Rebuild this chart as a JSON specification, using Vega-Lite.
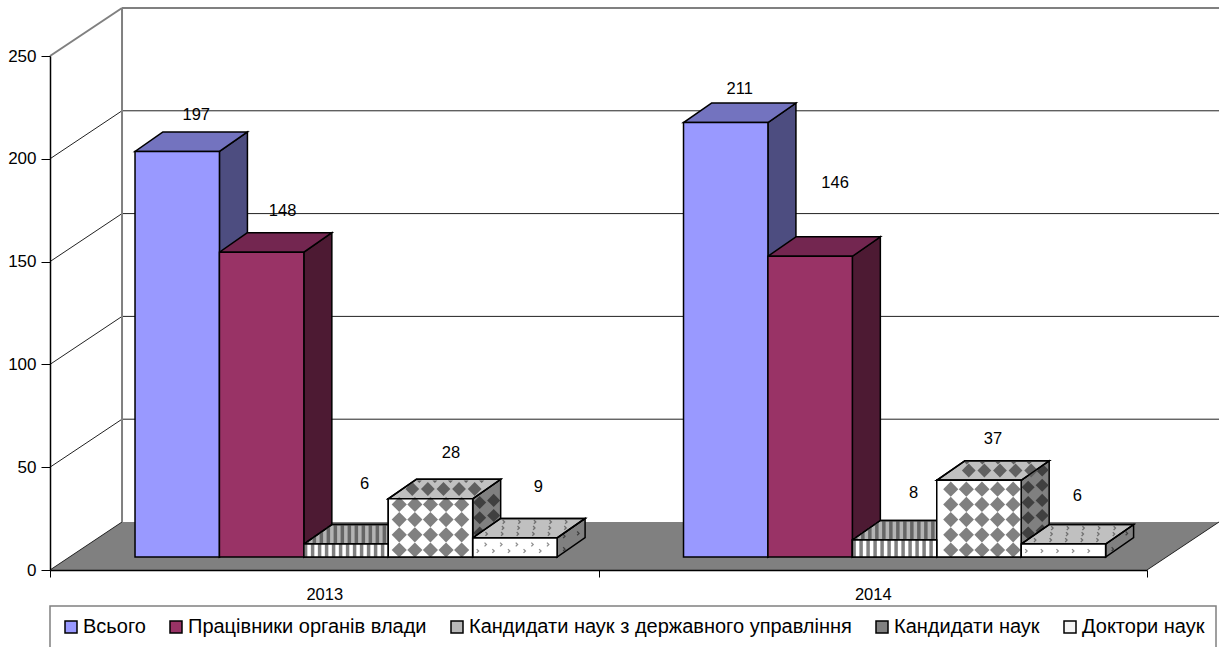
{
"$schema":"https://vega.github.io/schema/vega-lite/v6.json",
"width":1097,"height":514,
"autosize":"none",
"padding":{"left":50,"top":56,"right":74,"bottom":77},
"background":"white",
"config":{"view":{"stroke":null},"font":"Liberation Sans","legend":{"gridAlign":"none","strokeWidth":1.5}},
"data":{"values":[
{"year":2013,"series":"Всього","value":197},
{"year":2013,"series":"Працівники органів влади","value":148},
{"year":2013,"series":"Кандидати наук з державного управління","value":6},
{"year":2013,"series":"Кандидати наук","value":28},
{"year":2013,"series":"Доктори наук","value":9},
{"year":2014,"series":"Всього","value":211},
{"year":2014,"series":"Працівники органів влади","value":146},
{"year":2014,"series":"Кандидати наук з державного управління","value":8},
{"year":2014,"series":"Кандидати наук","value":37},
{"year":2014,"series":"Доктори наук","value":6}
]},
"transform":[
{"calculate":"indexof(['Всього','Працівники органів влади','Кандидати наук з державного управління','Кандидати наук','Доктори наук'],datum.series)","as":"k"},
{"calculate":"datum.year-0.345+datum.k*0.1539","as":"x0"},
{"calculate":"datum.x0+0.1539","as":"x1"},
{"calculate":"datum.value+6.6","as":"top"},
{"calculate":"datum.value*2.056","as":"h"},
{"calculate":"datum.year+'-'+datum.k","as":"id"}
],
"encoding":{
"x":{"field":"px","type":"quantitative","scale":{"domain":[2012.5,2014.5],"nice":false,"zero":false},
 "axis":{"title":null,"grid":false,"values":[2012.5,2013,2013.5,2014,2014.5],"labelExpr":"datum.value%1==0 ? ''+datum.value : ''","tickOpacity":{"condition":{"test":"datum.value%1!=0","value":1},"value":0},"tickSize":7,"tickColor":"#000","domainColor":"#000","domainWidth":1.5,"labelColor":"#000","labelFontSize":16.5,"labelFont":"Liberation Sans","labelPadding":9,"labelFlush":false,"labelOverlap":false,"zindex":1}},
"y":{"field":"py","type":"quantitative","scale":{"domain":[0,250],"nice":false,"zero":false},
 "axis":{"title":null,"grid":false,"values":[0,50,100,150,200,250],"tickSize":9,"tickColor":"#000","domainColor":"#000","domainWidth":1.5,"labelColor":"#000","labelFontSize":17,"labelFont":"Liberation Sans","labelPadding":5,"zindex":1}}
},
"layer":[
{"data":{"values":[{"plane":"floor"}]},
 "transform":[{"calculate":"2012.5","as":"fa"},{"calculate":"2012.6313","as":"fb"},{"fold":["fa","fb"],"as":["corner","px"]},{"calculate":"datum.px+2","as":"px2"},{"calculate":"datum.corner=='fa'?0:23.35","as":"py"}],
 "mark":{"type":"area","orient":"horizontal","fill":"#808080"},
 "encoding":{"x2":{"field":"px2"}}},
{"data":{"values":[{"tick":50},{"tick":100},{"tick":150},{"tick":200},{"tick":250}]},
 "transform":[{"calculate":"2012.6313","as":"px"},{"calculate":"2014.6313","as":"px2"},{"calculate":"datum.tick+23.35","as":"py"}],
 "mark":{"type":"rule"},
 "encoding":{"x2":{"field":"px2"},
  "stroke":{"condition":{"test":"datum.tick==250","value":"#808080"},"value":"#222"},
  "strokeWidth":{"condition":{"test":"datum.tick==250","value":2},"value":1}}},
{"data":{"values":[{"tick":0},{"tick":50},{"tick":100},{"tick":150},{"tick":200},{"tick":250}]},
 "transform":[{"calculate":"2012.5","as":"fa"},{"calculate":"2012.6313","as":"fb"},{"fold":["fa","fb"],"as":["corner","px"]},{"calculate":"datum.tick+(datum.corner=='fa'?0:23.35)","as":"py"}],
 "mark":{"type":"line"},
 "encoding":{"detail":{"field":"tick"},
  "stroke":{"condition":{"test":"datum.tick==250","value":"#808080"},"value":"#222"},
  "strokeWidth":{"condition":{"test":"datum.tick==250","value":2},"value":1}}},
{"data":{"values":[{"plane":"floor edge"}]},
 "transform":[{"calculate":"2014.5","as":"fa"},{"calculate":"2014.6313","as":"fb"},{"fold":["fa","fb"],"as":["corner","px"]},{"calculate":"datum.corner=='fa'?0:23.35","as":"py"}],
 "mark":{"type":"line","stroke":"#222","strokeWidth":1},
 "encoding":{}},
{"data":{"values":[{"plane":"wall"}]},
 "transform":[{"calculate":"2012.6313","as":"px"},{"calculate":"23.35","as":"py"},{"calculate":"273.35","as":"py0"}],
 "mark":{"type":"rule","stroke":"#808080","strokeWidth":2},
 "encoding":{"y2":{"field":"py0"}}},

{"transform":[{"calculate":"datum.x1","as":"xa"},{"calculate":"datum.x1+0.05105","as":"xb"},{"fold":["xa","xb"],"as":["corner","px"]},{"calculate":"datum.corner=='xb'?9.48:0","as":"lift"},{"calculate":"datum.top+datum.lift","as":"py"},{"calculate":"6.32+datum.lift","as":"py0"}],
 "mark":{"type":"area","orient":"vertical","stroke":"#000","strokeWidth":1.5},
 "encoding":{"y2":{"field":"py0"},"detail":{"field":"id"},
  "fill":{"field":"series","legend":null,"scale":{"domain":["Всього","Працівники органів влади","Кандидати наук з державного управління","Кандидати наук","Доктори наук"],"range":["#4d4d80","#4d1a33","#808080","#808080","#808080"]}}}},
{"transform":[{"filter":"datum.k==3"},{"calculate":"[7,21]","as":"c"},{"flatten":["c"]},{"calculate":"[0,1,2,3,4,5,6]","as":"r"},{"flatten":["r"]},{"calculate":"(datum.c==7?4:11.6)+datum.r*15.2+datum.c*0.696","as":"yfull"},{"filter":"datum.yfull-datum.c*0.696>=4 && datum.yfull-datum.c*0.696<=datum.h-3"},{"calculate":"datum.x1+datum.c/548.5","as":"px"},{"calculate":"6.32+datum.yfull*0.4864","as":"py"}],
 "mark":{"type":"point","shape":"diamond","filled":true,"fill":"#404040","stroke":null,"opacity":1,"size":170},
 "encoding":{}},
{"transform":[{"filter":"datum.k==4"},{"calculate":"[7,21]","as":"c"},{"flatten":["c"]},{"calculate":"[0,1,2]","as":"r"},{"flatten":["r"]},{"calculate":"(datum.c==7?3:9)+datum.r*13+datum.c*0.696","as":"yfull"},{"filter":"datum.yfull-datum.c*0.696<=datum.h-2"},{"calculate":"datum.x1+datum.c/548.5","as":"px"},{"calculate":"6.32+datum.yfull*0.4864","as":"py"}],
 "mark":{"type":"point","shape":"M-0.5,-1L0.5,0L-0.5,1","filled":false,"stroke":"#404040","strokeWidth":1.3,"opacity":1,"size":14},
 "encoding":{}},

{"transform":[{"calculate":"datum.top","as":"ya"},{"calculate":"datum.top+9.48","as":"yb"},{"fold":["ya","yb"],"as":["corner","py"]},{"calculate":"datum.x0+(datum.corner=='yb'?0.05105:0)","as":"px"},{"calculate":"datum.px+0.1539","as":"px2"}],
 "mark":{"type":"area","orient":"horizontal","stroke":"#000","strokeWidth":1.5},
 "encoding":{"x2":{"field":"px2"},"detail":{"field":"id"},
  "fill":{"field":"series","legend":null,"scale":{"domain":["Всього","Працівники органів влади","Кандидати наук з державного управління","Кандидати наук","Доктори наук"],"range":["#7373bf","#732650","#b4b4b4","#c0c0c0","#c0c0c0"]}}}},
{"transform":[{"filter":"datum.k==2"},{"calculate":"[0,1,2,3,4,5,6,7,8,9,10,11,12,13,14,15]","as":"c"},{"flatten":["c"]},{"calculate":"datum.x0+(3.5+datum.c*7)/548.5","as":"px"},{"calculate":"datum.top+max(0,(datum.px-datum.x1)/0.05105*9.48)","as":"py"},{"calculate":"datum.top+min(9.48,(datum.px-datum.x0)/0.05105*9.48)","as":"py0"}],
 "mark":{"type":"rule","stroke":"#666666","strokeWidth":3.5},
 "encoding":{"y2":{"field":"py0"}}},
{"transform":[{"filter":"datum.k==3"},{"calculate":"[0,1,2,3,4]","as":"c"},{"flatten":["c"]},{"calculate":"datum.x0+((datum.year==2013?24:32)+datum.c*15.6)/548.5","as":"px"},{"calculate":"datum.top+4.8","as":"py"}],
 "mark":{"type":"point","shape":"diamond","filled":true,"fill":"#606060","stroke":null,"opacity":1,"size":190},
 "encoding":{}},
{"transform":[{"filter":"datum.k==3"},{"calculate":"[0,1,2,3,4]","as":"c"},{"flatten":["c"]},{"calculate":"datum.x0+((datum.year==2013?31:30)+datum.c*15.6)/548.5","as":"px"},{"calculate":"datum.top+8.9","as":"py"}],
 "mark":{"type":"point","shape":"M-1,0L1,0L0,1Z","filled":true,"fill":"#606060","stroke":null,"opacity":1,"size":25},
 "encoding":{}},
{"transform":[{"filter":"datum.k==4"},{"calculate":"[0,1,2,3,4,5,6]","as":"c"},{"flatten":["c"]},{"calculate":"[0,1,2]","as":"r"},{"flatten":["r"]},{"calculate":"4+datum.r*6","as":"yrel"},{"calculate":"8+datum.yrel*1.436+datum.c*15.6+(datum.r%2)*7.8","as":"xrel"},{"filter":"datum.xrel<=81+datum.yrel*1.436"},{"calculate":"datum.x0+datum.xrel/548.5","as":"px"},{"calculate":"datum.top+datum.yrel*0.4864","as":"py"}],
 "mark":{"type":"point","shape":"M-0.5,-1L0.5,0L-0.5,1","filled":false,"stroke":"#707070","strokeWidth":1.3,"opacity":1,"size":14},
 "encoding":{}},
{"transform":[{"filter":"datum.k>=2"},{"calculate":"datum.top","as":"ya"},{"calculate":"datum.top+9.48","as":"yb"},{"fold":["ya","yb"],"as":["corner","py"]},{"calculate":"datum.x0+(datum.corner=='yb'?0.05105:0)","as":"px"},{"calculate":"datum.px+0.1539","as":"px2"}],
 "mark":{"type":"area","orient":"horizontal","fill":"transparent","stroke":"#000","strokeWidth":1.5},
 "encoding":{"x2":{"field":"px2"},"detail":{"field":"id"}}},

{"transform":[{"calculate":"datum.x0","as":"px"},{"calculate":"datum.x1","as":"px2"},{"calculate":"datum.top","as":"py"},{"calculate":"6.32","as":"py0"}],
 "mark":{"type":"rect","stroke":"#000","strokeWidth":1.5},
 "encoding":{"x2":{"field":"px2"},"y2":{"field":"py0"},
  "fill":{"field":"series","sort":null,"scale":{"domain":["Всього","Працівники органів влади","Кандидати наук з державного управління","Кандидати наук","Доктори наук"],
   "range":["#9999ff","#993366","#b8b8b8","#808080","#f4f4f4"]},
   "legend":{"title":null,"orient":"none","legendX":0,"legendY":550,"direction":"horizontal","columns":5,"symbolType":"square","symbolSize":144,"labelFontSize":20,"labelFont":"Liberation Sans","labelColor":"#000","labelLimit":600,"labelOffset":2,"strokeColor":"#808080","padding":11,"columnPadding":20,
   "encoding":{"symbols":{"update":{"stroke":{"value":"#000"},"strokeWidth":{"value":1.5},"opacity":{"value":1}}}}}}}},
{"transform":[{"filter":"datum.k>=2"},{"calculate":"datum.x0","as":"px"},{"calculate":"datum.x1","as":"px2"},{"calculate":"datum.top","as":"py"},{"calculate":"6.32","as":"py0"}],
 "mark":{"type":"rect","fill":"#ffffff"},
 "encoding":{"x2":{"field":"px2"},"y2":{"field":"py0"}}},
{"transform":[{"filter":"datum.k==2"},{"calculate":"[0,1,2,3,4,5,6,7,8,9,10,11]","as":"c"},{"flatten":["c"]},{"calculate":"datum.x0+(1.75+datum.c*7)/548.5","as":"px"},{"calculate":"datum.top","as":"py"},{"calculate":"6.32","as":"py0"}],
 "mark":{"type":"rule","stroke":"#808080","strokeWidth":3.5},
 "encoding":{"y2":{"field":"py0"}}},
{"transform":[{"filter":"datum.k==3"},{"calculate":"[0,1,2,3,4]","as":"c"},{"flatten":["c"]},{"calculate":"sequence(0,ceil((datum.h-7)/15.2))","as":"r"},{"flatten":["r"]},{"calculate":"datum.x0+((datum.year==2013?11:14)+datum.c*15.6)/548.5","as":"px"},{"calculate":"6.32+(7+datum.r*15.2)*0.4864","as":"py"}],
 "mark":{"type":"point","shape":"diamond","filled":true,"fill":"#808080","stroke":null,"opacity":1,"size":230},
 "encoding":{}},
{"transform":[{"filter":"datum.k==4"},{"calculate":"[0,1,2,3,4]","as":"c"},{"flatten":["c"]},{"calculate":"[0,1,2]","as":"r"},{"flatten":["r"]},{"calculate":"6+datum.r*6.5","as":"yrel"},{"filter":"datum.yrel<=datum.h-2"},{"calculate":"datum.x0+(5+datum.c*15.6+(datum.r%2)*7.8)/548.5","as":"px"},{"calculate":"6.32+datum.yrel*0.4864","as":"py"}],
 "mark":{"type":"point","shape":"M-0.5,-1L0.5,0L-0.5,1","filled":false,"stroke":"#909090","strokeWidth":1.3,"opacity":1,"size":14},
 "encoding":{}},
{"transform":[{"filter":"datum.k>=2"},{"calculate":"datum.x0","as":"px"},{"calculate":"datum.x1","as":"px2"},{"calculate":"datum.top","as":"py"},{"calculate":"6.32","as":"py0"}],
 "mark":{"type":"rect","fill":"transparent","stroke":"#000","strokeWidth":1.5},
 "encoding":{"x2":{"field":"px2"},"y2":{"field":"py0"}}},

{"transform":[
 {"calculate":"[[17,22,41,26,31],[14,54,27,22,29]][datum.year-2013][datum.k]","as":"ly"},
 {"calculate":"[[5,7,4.5,6.5,9.5],[0,11,5,0,0]][datum.year-2013][datum.k]","as":"lx"},
 {"calculate":"datum.x0+0.07695+0.025525+datum.lx/548.5","as":"px"},
 {"calculate":"datum.top+9.48+datum.ly*0.4864","as":"py"}],
 "mark":{"type":"text","font":"Liberation Sans","fontSize":16.5,"color":"#000","align":"center","baseline":"middle"},
 "encoding":{"text":{"field":"value","type":"quantitative"}}}
],
"resolve":{"scale":{"fill":"independent"}}
}
